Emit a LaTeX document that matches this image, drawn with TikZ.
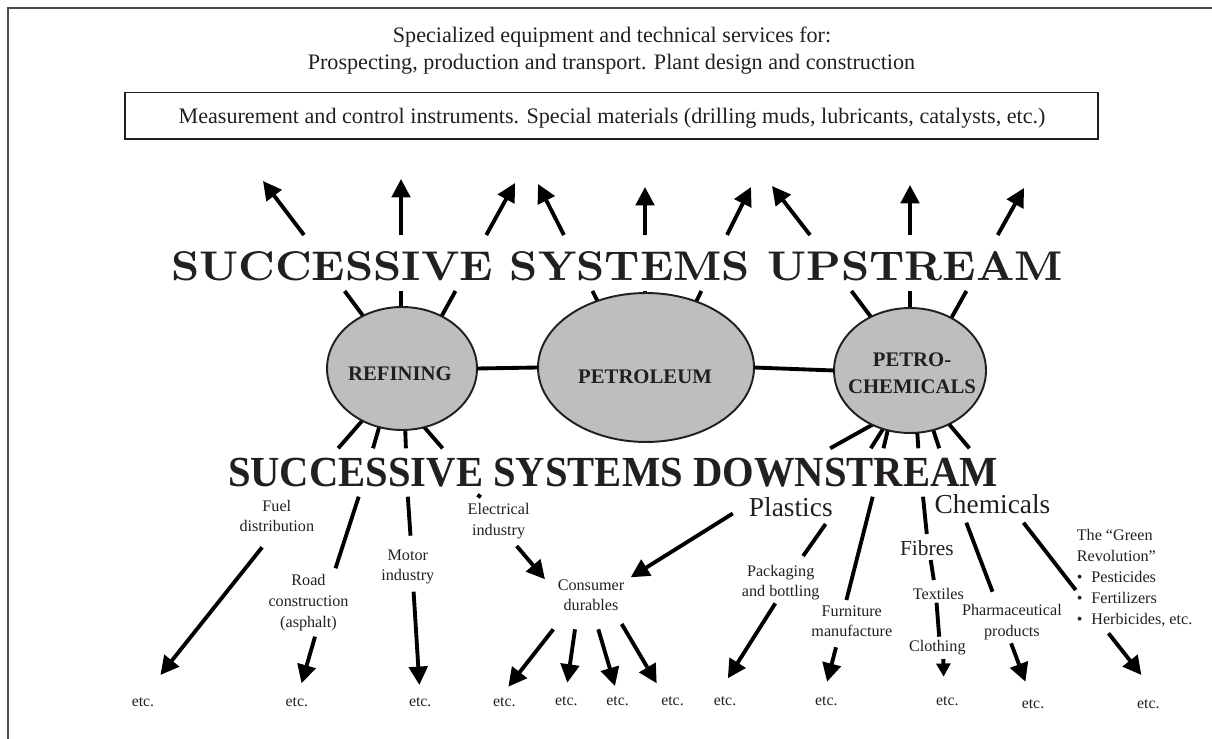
\documentclass[tikz,border=0pt]{standalone}
\usepackage{fontspec}
\setmainfont{Liberation Serif}
\newfontfamily\lmfont{Latin Modern Roman}
\usetikzlibrary{arrows.meta,shapes.geometric}
\definecolor{txt}{HTML}{231F20}
\definecolor{ellfill}{HTML}{BCBEC0}
\newcommand{\mystack}[1]{\begin{tabular}[t]{@{}c@{}}#1\end{tabular}}
\newcommand{\myleftstack}[1]{\begin{tabular}[t]{@{}l@{}}#1\end{tabular}}
\begin{document}
\begin{tikzpicture}[x=0.02cm,y=-0.02cm,
  every node/.style={inner sep=0pt,outer sep=0pt,text=txt},
  ln/.style={line width=2.2pt},
  arr/.style={ln,-{Triangle[length=10.5pt,width=10.5pt]}},
  sarr/.style={ln,-{Triangle[length=7.5pt,width=7.8pt]}},
  ell/.style={ellipse,draw=txt,fill=ellfill,line width=1.1pt},
  elab/.style={anchor=base,font=\fontsize{11.8}{15}\selectfont\bfseries},
  toptext/.style={anchor=base,font=\fontsize{12.6}{15}\selectfont},
  lab/.style={anchor=base,font=\fontsize{9.2}{11.95}\selectfont},
  biglab/.style={anchor=base,font=\fontsize{15.6}{18}\selectfont},
  etcl/.style={anchor=base,font=\fontsize{9}{11}\selectfont},
]
\useasboundingbox (0,0) rectangle (1212,739);
\clip (0,0) rectangle (1212,739);
\draw[line width=1.2pt,draw=black!70] (8.3,8.3) rectangle (1250,760);

% ---------- top texts ----------
\node[toptext] (spec1) at (612,43) {Specialized equipment and technical services for:};
\node[toptext] (spec2) at (611.5,70) {Prospecting, production and transport. Plant design and construction};
\node[draw=txt,line width=0.8pt,minimum width=19.46cm,minimum height=0.934cm] (instrbox) at (611.5,115.7) {};
\node[toptext] (instr) at (612,124) {Measurement and control instruments. Special materials (drilling muds, lubricants, catalysts, etc.)};

% ---------- upstream connectors (tail, tip, stub start, stub end inside ellipse) ----------
\coordinate (u1t) at (304,235);   \coordinate (u1h) at (263,181);
\coordinate (u1a) at (344.6,291); \coordinate (u1b) at (372.9,329.1);
\coordinate (u2t) at (401,235);   \coordinate (u2h) at (401,179);
\coordinate (u2a) at (401,291);   \coordinate (u2b) at (401,328);
\coordinate (u3t) at (486.3,235); \coordinate (u3h) at (515,183);
\coordinate (u3a) at (455.5,291); \coordinate (u3b) at (432.9,331.9);
\coordinate (u4t) at (563.9,235); \coordinate (u4h) at (538,184);
\coordinate (u4a) at (592.4,291); \coordinate (u4b) at (609.3,324.3);
\coordinate (u5t) at (645,235);   \coordinate (u5h) at (645,187);
\coordinate (u5a) at (645,291);   \coordinate (u5b) at (645,318);
\coordinate (u6t) at (727,235);   \coordinate (u6h) at (751,187);
\coordinate (u6a) at (701.3,291); \coordinate (u6b) at (685.2,324.6);
\coordinate (u7t) at (810,235);   \coordinate (u7h) at (772,186);
\coordinate (u7a) at (851.4,291); \coordinate (u7b) at (883.1,333);
\coordinate (u8t) at (910,235);   \coordinate (u8h) at (910,185);
\coordinate (u8a) at (910,291);   \coordinate (u8b) at (910,330);
\coordinate (u9t) at (997.7,235); \coordinate (u9h) at (1024,188);
\coordinate (u9a) at (966.4,291); \coordinate (u9b) at (940.8,336.8);
\foreach \i in {1,...,9}{
  \draw[arr] (u\i t) -- (u\i h);
  \draw[ln] (u\i a) -- (u\i b);
}

% ---------- downstream stubs (inside ellipse -> title) ----------
\coordinate (ra0) at (374.5,406.6); \coordinate (ra1) at (338.2,448.3);
\coordinate (rb0) at (384.4,409.1); \coordinate (rb1) at (373,448.3);
\coordinate (rc0) at (404.5,410);   \coordinate (rc1) at (405.9,448.3);
\coordinate (rd0) at (412.1,413.2); \coordinate (rd1) at (442.6,448.3);
\coordinate (pa0) at (886.4,416.9); \coordinate (pa1) at (830.2,448.3);
\coordinate (pb0) at (893.1,413.1); \coordinate (pb1) at (870.8,448.3);
\coordinate (pc0) at (892,412.2);   \coordinate (pc1) at (883.5,448.3);
\coordinate (pd0) at (916,413.3);   \coordinate (pd1) at (918.3,448.3);
\coordinate (pe0) at (927.6,412.7); \coordinate (pe1) at (939.2,448.3);
\coordinate (pf0) at (938.3,411.4); \coordinate (pf1) at (969.4,448.3);
\foreach \s in {ra,rb,rc,rd,pa,pb,pc,pd,pe,pf}{
  \draw[ln] (\s0) -- (\s1);
}

% ---------- ellipses ----------
\node[ell,minimum width=3cm,minimum height=2.46cm] (refining) at (402,368.5) {};
\node[ell,minimum width=4.32cm,minimum height=2.98cm] (petroleum) at (646,367.5) {};
\node[ell,minimum width=3.04cm,minimum height=2.5cm] (petrochem) at (910,370.5) {};
\draw[ln] (refining.east) -- (petroleum.west);
\draw[ln] (petroleum.east) -- (petrochem.west);
\node[elab] (reflab) at (400,380.7) {REFINING};
\node[elab] (petlab) at (645,383.3) {PETROLEUM};
\node[elab] (pclab1) at (912,366.7) {PETRO-};
\node[elab] (pclab2) at (912,393) {CHEMICALS};

% ---------- titles ----------
\node[anchor=south] (upstream) at (617,280.5)
  {\resizebox{17.84cm}{0.58cm}{\lmfont\bfseries SUCCESSIVE SYSTEMS UPSTREAM}};
\node[anchor=south] (downstream) at (613,486.7)
  {\resizebox{15.4cm}{0.568cm}{\bfseries SUCCESSIVE SYSTEMS DOWNSTREAM}};

% ---------- labels ----------
\node[lab] (fuel) at (276.8,511) {\mystack{Fuel\\distribution}};
\node[lab] (road) at (308.5,585.5) {\mystack{Road\\construction\\(asphalt)}};
\node[lab] (motor) at (407.8,560) {\mystack{Motor\\industry}};
\node[lab] (elec) at (498.6,514.5) {\mystack{Electrical\\industry}};
\node[lab] (cons) at (591,590) {\mystack{Consumer\\durables}};
\node[lab] (pack) at (780.7,576) {\mystack{Packaging\\and bottling}};
\node[lab] (furn) at (851.8,616) {\mystack{Furniture\\manufacture}};
\node[lab] (textiles) at (938.4,599.5) {Textiles};
\node[lab] (clothing) at (937.3,651.5) {Clothing};
\node[lab] (pharma) at (1011.9,615.5) {\mystack{Pharmaceutical\\products}};
\node[lab,anchor=base west] (green) at (1076.8,540.5)
  {\myleftstack{The “Green\\Revolution”\\\textbullet\hspace{0.55em}Pesticides\\\textbullet\hspace{0.55em}Fertilizers\\\textbullet\hspace{0.55em}Herbicides, etc.}};
\node[biglab] (plastics) at (790.8,516) {Plastics};
\node[biglab] (chemicals) at (992.5,513.3) {Chemicals};
\node[biglab,font=\fontsize{12.2}{14}\selectfont] (fibres) at (926.8,555) {Fibres};

% ---------- etc. ----------
\foreach \n/\x/\y in {1/143/706,2/296.9/706,3/420.2/706,4/504.4/706,5/566.3/705,6/617.6/705,
  7/672.5/705,8/725/705,9/826.3/705,10/947.3/705,11/1033/708,12/1148.3/708}{
  \node[etcl] (etc\n) at (\x,\y) {etc.};
}

% ---------- downstream connectors ----------
\coordinate (fuelA) at (262.1,547.3);   \coordinate (fuelB) at (160.4,675);
\coordinate (roadA) at (358.7,496.7);   \coordinate (roadB) at (335.5,568.3);
\coordinate (roadC) at (315,636.7);     \coordinate (roadD) at (301.5,683.3);
\coordinate (motA) at (407.8,496.7);    \coordinate (motB) at (410.5,535.7);
\coordinate (motC) at (413.6,591.7);    \coordinate (motD) at (419.4,685);
\coordinate (elA) at (477.5,494.8);     \coordinate (elB) at (480.8,497.2);
\coordinate (elC) at (516.7,546);       \coordinate (elD) at (545,579.3);
\coordinate (plA) at (732.8,513.5);     \coordinate (plB) at (630.7,577.3);
\coordinate (cd1A) at (553.3,629.3);    \coordinate (cd1B) at (508.3,686.7);
\coordinate (cd2A) at (575,629.3);      \coordinate (cd2B) at (567.3,682.7);
\coordinate (cd3A) at (598.3,629.3);    \coordinate (cd3B) at (615,686);
\coordinate (cd4A) at (621.7,624);      \coordinate (cd4B) at (656.7,683.3);
\coordinate (pkA) at (825.6,524);       \coordinate (pkB) at (803.1,556);
\coordinate (pkC) at (775.3,603.3);     \coordinate (pkD) at (727.8,678.3);
\coordinate (fuA) at (872.7,496.7);     \coordinate (fuB) at (846.4,600);
\coordinate (fuC) at (836,647.3);       \coordinate (fuD) at (827.1,681.7);
\coordinate (fiA) at (923,496.7);       \coordinate (fiB) at (926.8,534);
\coordinate (fiC) at (930.7,560);       \coordinate (fiD) at (933.8,580);
\coordinate (fiE) at (936.5,602.7);     \coordinate (fiF) at (939.2,636.7);
\coordinate (clA) at (943.3,659);       \coordinate (clB) at (943.6,676.7);
\coordinate (phA) at (966.3,522.7);     \coordinate (phB) at (992.5,591.7);
\coordinate (phC) at (1011.1,643.3);    \coordinate (phD) at (1025.4,681.7);
\coordinate (grA) at (1023.5,522.7);    \coordinate (grB) at (1075.7,590);
\coordinate (grC) at (1108.5,633.3);    \coordinate (grD) at (1141.4,675);

\draw[arr] (fuelA) -- (fuelB);
\draw[ln]  (roadA) -- (roadB);
\draw[arr] (roadC) -- (roadD);
\draw[ln]  (motA) -- (motB);
\draw[arr] (motC) -- (motD);
\draw[ln]  (elA) -- (elB);
\draw[arr] (elC) -- (elD);
\draw[arr] (plA) -- (plB);
\draw[arr] (cd1A) -- (cd1B);
\draw[arr] (cd2A) -- (cd2B);
\draw[arr] (cd3A) -- (cd3B);
\draw[arr] (cd4A) -- (cd4B);
\draw[ln]  (pkA) -- (pkB);
\draw[arr] (pkC) -- (pkD);
\draw[ln]  (fuA) -- (fuB);
\draw[arr] (fuC) -- (fuD);
\draw[ln]  (fiA) -- (fiB);
\draw[ln]  (fiC) -- (fiD);
\draw[ln]  (fiE) -- (fiF);
\draw[sarr] (clA) -- (clB);
\draw[ln]  (phA) -- (phB);
\draw[arr] (phC) -- (phD);
\draw[ln]  (grA) -- (grB);
\draw[arr] (grC) -- (grD);
\end{tikzpicture}
\end{document}
